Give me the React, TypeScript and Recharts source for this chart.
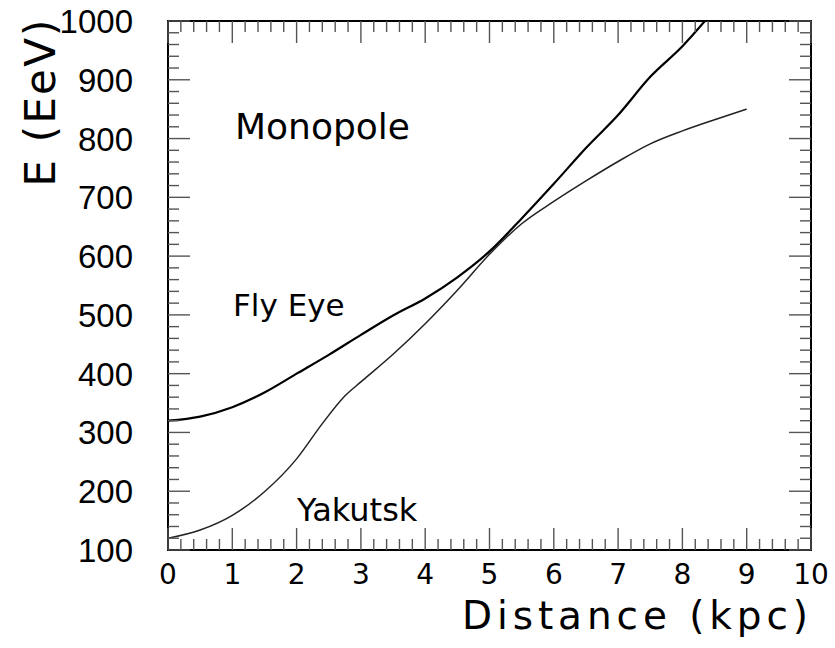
import React from 'react'
import { LineChart, Line, XAxis, YAxis, ReferenceArea } from 'recharts'

// distance (kpc) vs energy (EeV)
const flyEyeDist = [0, 0.5, 1, 1.5, 2, 2.5, 3, 3.5, 4, 4.5, 5, 5.5, 6, 6.5, 7, 7.5, 8, 8.35]
const flyEyeE = [320, 327, 343, 368, 400, 432, 466, 499, 528, 564, 608, 664, 723, 784, 840, 905, 957, 1000]

const yakutskDist = [0, 0.5, 1, 1.5, 2, 2.4, 2.75, 3, 3.5, 4, 4.5, 5, 5.5, 6, 6.5, 7, 7.5, 8, 8.5, 9]
const yakutskE = [120, 134, 159, 199, 255, 315, 362, 386, 433, 485, 542, 603, 655, 693, 728, 761, 791, 813, 832, 850]

const xMajor = [0, 1, 2, 3, 4, 5, 6, 7, 8, 9, 10]
const yMajor = [100, 200, 300, 400, 500, 600, 700, 800, 900, 1000]

const xTicks = xMajor
  .flatMap(m => [0, 0.2, 0.4, 0.6, 0.8].map(f => +(m + f).toFixed(1)))
  .filter(v => v <= 10)
const yTicks = yMajor
  .flatMap(m => [0, 20, 40, 60, 80].map(f => m + f))
  .filter(v => v <= 1000)

const flyEye = flyEyeDist.map((d, i) => ({ d, e: flyEyeE[i] }))
const yakutsk = yakutskDist.map((d, i) => ({ d, e: yakutskE[i] }))

const tickColor = '#555'
const MAJOR = 22
const MINOR = 11

const BottomTick = (props: any) => {
  const { x, y, payload } = props
  const major = xMajor.includes(payload.value)
  return (
    <g>
      <line x1={x} x2={x} y1={y} y2={y - (major ? MAJOR : MINOR)} stroke={tickColor} strokeWidth={1.4} />
      {major && (
        <text x={x} y={y + 34} textAnchor="middle" fontFamily="DejaVu Sans" fontSize={28} fill="#000">
          {payload.value}
        </text>
      )}
    </g>
  )
}

const TopTick = (props: any) => {
  const { x, y, payload } = props
  const major = xMajor.includes(payload.value)
  return <line x1={x} x2={x} y1={y} y2={y + (major ? MAJOR : MINOR)} stroke={tickColor} strokeWidth={1.4} />
}

const LeftTick = (props: any) => {
  const { x, y, payload } = props
  const major = yMajor.includes(payload.value)
  return (
    <g>
      <line x1={x} x2={x + (major ? MAJOR : MINOR)} y1={y} y2={y} stroke={tickColor} strokeWidth={1.4} />
      {major && (
        <text x={x - 35} y={y + 12} textAnchor="end" fontFamily="Liberation Sans" fontSize={33} fill="#000">
          {payload.value}
        </text>
      )}
    </g>
  )
}

const RightTick = (props: any) => {
  const { x, y, payload } = props
  const major = yMajor.includes(payload.value)
  return <line x1={x} x2={x - (major ? MAJOR : MINOR)} y1={y} y2={y} stroke={tickColor} strokeWidth={1.4} />
}

export default function App() {
  return (
    <div style={{ position: 'absolute', left: 0, top: 0, background: '#fff' }}>
      <LineChart width={835} height={648} margin={{ top: 20, right: 23, bottom: 97, left: 167 }}>
        <XAxis
          type="number"
          dataKey="d"
          domain={[0, 10]}
          ticks={xTicks}
          interval={0}
          height={1}
          tickSize={0}
          tickMargin={0}
          axisLine={false}
          tickLine={false}
          tick={BottomTick}
          allowDataOverflow
        />
        <XAxis
          xAxisId="top"
          orientation="top"
          type="number"
          dataKey="d"
          domain={[0, 10]}
          ticks={xTicks}
          interval={0}
          height={1}
          tickSize={0}
          tickMargin={0}
          axisLine={false}
          tickLine={false}
          tick={TopTick}
          allowDataOverflow
        />
        <YAxis
          type="number"
          domain={[100, 1000]}
          ticks={yTicks}
          interval={0}
          width={1}
          tickSize={0}
          tickMargin={0}
          axisLine={false}
          tickLine={false}
          tick={LeftTick}
          allowDataOverflow
        />
        <YAxis
          yAxisId="right"
          orientation="right"
          type="number"
          domain={[100, 1000]}
          ticks={yTicks}
          interval={0}
          width={1}
          tickSize={0}
          tickMargin={0}
          axisLine={false}
          tickLine={false}
          tick={RightTick}
          allowDataOverflow
        />
        <ReferenceArea x1={0} x2={10} y1={100} y2={1000} fill="none" stroke="#000" strokeWidth={2} ifOverflow="visible" />
        <Line data={flyEye} dataKey="e" type="monotone" stroke="#000" strokeWidth={2.2} dot={false} isAnimationActive={false} />
        <Line data={yakutsk} dataKey="e" type="monotone" stroke="#222" strokeWidth={1.5} dot={false} isAnimationActive={false} />

        <text x={235} y={139} fontFamily="DejaVu Sans" fontSize={36} fill="#000">Monopole</text>
        <text x={233} y={316} fontFamily="DejaVu Sans" fontSize={31} fill="#000">Fly Eye</text>
        <text x={297} y={521} fontFamily="DejaVu Sans" fontSize={32} fill="#000">Yakutsk</text>
        <text
          x={808}
          y={629}
          textAnchor="end"
          fontFamily="DejaVu Sans"
          fontSize={39}
          textLength={346}
          lengthAdjust="spacing"
          fill="#000"
        >
          Distance (kpc)
        </text>
        <text
          transform="translate(55,103) rotate(-90)"
          textAnchor="middle"
          fontFamily="DejaVu Sans"
          fontSize={42}
          textLength={167}
          lengthAdjust="spacing"
          fill="#000"
        >
          E (EeV)
        </text>
      </LineChart>
    </div>
  )
}
